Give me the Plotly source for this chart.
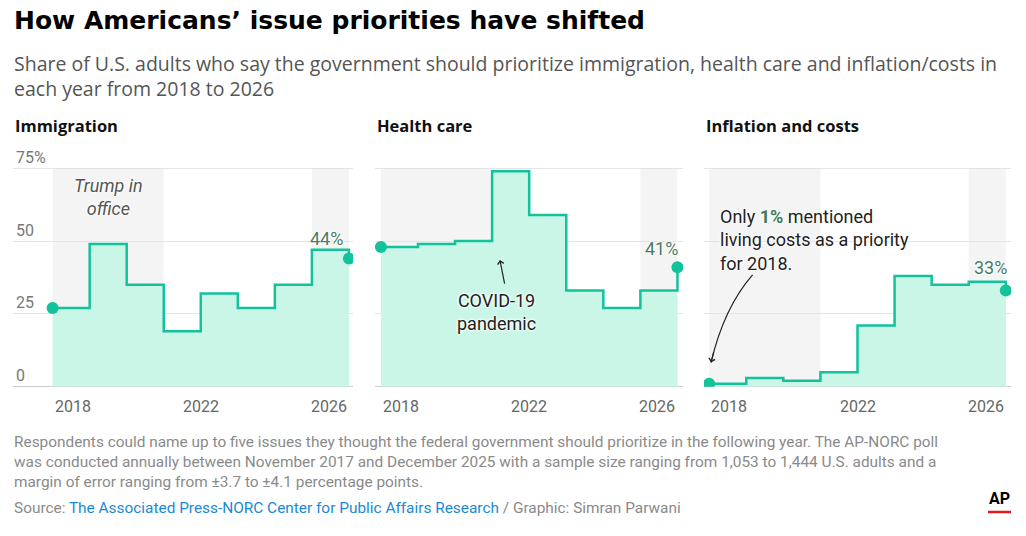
import plotly.graph_objects as go

years = [2018, 2019, 2020, 2021, 2022, 2023, 2024, 2025, 2026]
immigration = [27, 49, 35, 19, 32, 27, 35, 47, 44]
health_care = [48, 49, 50, 74, 59, 33, 27, 33, 41]
inflation = [1, 3, 2, 5, 21, 38, 35, 36, 33]
panel_titles = ["Immigration", "Health care", "Inflation and costs"]
trump_terms = [(2018, 2021), (2025, 2026)]
y_ticks = [0, 25, 50, 75]
y_ticktext = ["0", "25", "50", "75%"]
x_labels = [2018, 2022, 2026]

W, H = 1026, 536
LINE = "#12c29b"
FILL = "#c9f6e7"
BAND = "#f4f4f4"
LABEL_GREEN = "#4a7c66"
FONT = "Roboto"
HEAD_FONT = "Open Sans"
TITLE_FONT = "DejaVu Sans"

def px(x):
    return x / W

def py(y):
    return 1 - y / H

PPU = 2.912          # pixels per percentage point
Y0 = 386.7           # pixel row of 0
YMAX = 88
x_domains = [(13, 353), (375, 683), (704, 1011)]
x_ranges = [(2016.93, 2026.11), (2017.84, 2026.15), (2017.86, 2026.14)]
y_dom = (py(Y0), py(Y0 - YMAX * PPU))

fig = go.Figure()
series = [immigration, health_care, inflation]

for i, vals in enumerate(series):
    xa = "x" if i == 0 else f"x{i+1}"
    ya = "y" if i == 0 else f"y{i+1}"
    fig.add_trace(go.Scatter(x=years, y=vals, mode="lines", line=dict(color=LINE, width=2.5, shape="hv"),
                             fill="tozeroy", fillcolor=FILL, xaxis=xa, yaxis=ya, hoverinfo="skip", showlegend=False))
    fig.add_trace(go.Scatter(x=[years[0], years[-1]], y=[vals[0], vals[-1]], mode="markers",
                             marker=dict(color=LINE, size=12), xaxis=xa, yaxis=ya, hoverinfo="skip", showlegend=False))
    for (a, b) in trump_terms:
        fig.add_shape(type="rect", xref=xa, yref=ya, x0=a, x1=b, y0=0, y1=75, fillcolor=BAND,
                      line=dict(width=0), layer="below")
    anchors = ["left", "center", "right"]
    for j, yr in enumerate(x_labels):
        fig.add_annotation(x=yr, xref=xa, y=py(406), yref="paper", text=str(yr), showarrow=False,
                           xanchor=anchors[j], yanchor="middle", font=dict(family=FONT, size=16, color="#666"))
    fig.add_annotation(x=px(x_domains[i][0]), xref="paper", y=py(126), yref="paper",
                       text=f"<b>{panel_titles[i]}</b>", showarrow=False, xanchor="left", yanchor="middle",
                       font=dict(family=HEAD_FONT, size=16.5, color="#111"))

axis_common = dict(showgrid=False, zeroline=False, showticklabels=False, ticks="", fixedrange=True)
for i in range(3):
    key = "xaxis" if i == 0 else f"xaxis{i+1}"
    ykey = "yaxis" if i == 0 else f"yaxis{i+1}"
    anchor_y = "y" if i == 0 else f"y{i+1}"
    anchor_x = "x" if i == 0 else f"x{i+1}"
    fig.layout[key] = dict(domain=[px(x_domains[i][0]), px(x_domains[i][1])], range=list(x_ranges[i]),
                           anchor=anchor_y, **axis_common)
    fig.layout[ykey] = dict(domain=list(y_dom), range=[0, YMAX], anchor=anchor_x,
                            tickvals=y_ticks, ticktext=y_ticktext, showgrid=True, gridcolor="#e4e4e4", gridwidth=1,
                            zeroline=True, zerolinecolor="#cfcfcf", zerolinewidth=1.2,
                            showticklabels=(i == 0), ticklabelposition="inside top", ticks="",
                            tickfont=dict(family=FONT, size=16, color="#777"), fixedrange=True)

halo = "0 0 3px white, 0 0 3px white, 0 0 3px white"

fig.add_annotation(x=2019.5, y=65, xref="x", yref="y", text="<i>Trump in<br>office</i>", showarrow=False,
                   font=dict(family=FONT, size=18, color="#555", shadow=halo))
fig.add_annotation(x=2025.4, y=46.5, xref="x", yref="y", text="44%", showarrow=False, yanchor="bottom",
                   font=dict(family=FONT, size=18, color=LABEL_GREEN, shadow=halo))
fig.add_annotation(x=2021.13, y=25.5, xref="x2", yref="y2", text="COVID-19<br>pandemic", showarrow=False,
                   font=dict(family=FONT, size=18, color="#222", shadow=halo))
fig.add_annotation(x=2021.21, y=43.5, xref="x2", yref="y2", text="", showarrow=True, ax=5, ay=25,
                   arrowhead=4, arrowsize=1, arrowwidth=1.2, arrowcolor="#222")
fig.add_annotation(x=2025.58, y=43.2, xref="x2", yref="y2", text="41%", showarrow=False, yanchor="bottom",
                   font=dict(family=FONT, size=18, color=LABEL_GREEN, shadow=halo))
fig.add_annotation(x=2018.23, y=50.4, xref="x3", yref="y3",
                   text="Only <span style='color:#3f7a5e'><b>1%</b></span> mentioned<br>living costs as a priority<br>for 2018.",
                   showarrow=False, xanchor="left", align="left",
                   font=dict(family=FONT, size=18, color="#222", shadow=halo))
fig.add_shape(type="path", xref="x3", yref="y3", path="M 2019.17,38.4 Q 2018.40,27.2 2018.05,8.3",
              line=dict(color="#222", width=1.2))
fig.add_annotation(x=2018.05, y=8.3, xref="x3", yref="y3", text="", showarrow=True, ax=3, ay=-12,
                   arrowhead=4, arrowsize=1, arrowwidth=1.2, arrowcolor="#222")
fig.add_annotation(x=2025.58, y=36.5, xref="x3", yref="y3", text="33%", showarrow=False, yanchor="bottom",
                   font=dict(family=FONT, size=18, color=LABEL_GREEN, shadow=halo))

fig.add_annotation(x=px(12), y=py(20), xref="paper", yref="paper", text="<b>How Americans’ issue priorities have shifted</b>",
                   showarrow=False, xanchor="left", yanchor="middle", font=dict(family=TITLE_FONT, size=25, color="#000"))
fig.add_annotation(x=px(12), y=py(76.5), xref="paper", yref="paper", align="left",
                   text="Share of U.S. adults who say the government should prioritize immigration, health care and inflation/costs in<br>each year from 2018 to 2026",
                   showarrow=False, xanchor="left", yanchor="middle", font=dict(family=HEAD_FONT, size=19.5, color="#555"))

footer_lines = ["Respondents could name up to five issues they thought the federal government should prioritize in the following year. The AP-NORC poll",
                "was conducted annually between November 2017 and December 2025 with a sample size ranging from 1,053 to 1,444 U.S. adults and a",
                "margin of error ranging from ±3.7 to ±4.1 percentage points."]
fig.add_annotation(x=px(12), y=py(462), xref="paper", yref="paper", align="left", text="<br>".join(footer_lines),
                   showarrow=False, xanchor="left", yanchor="middle", font=dict(family=FONT, size=15.4, color="#8a8a8a"))
fig.add_annotation(x=px(12), y=py(508), xref="paper", yref="paper", align="left",
                   text="Source: <span style='color:#1a8ad4'>The Associated Press-NORC Center for Public Affairs Research</span> / Graphic: Simran Parwani",
                   showarrow=False, xanchor="left", yanchor="middle", font=dict(family=FONT, size=15.4, color="#8a8a8a"))
fig.add_annotation(x=px(999), y=py(498), xref="paper", yref="paper", text="<b>AP</b>", showarrow=False,
                   xanchor="center", yanchor="middle", font=dict(family=FONT, size=16, color="#000"))
fig.add_shape(type="line", xref="paper", yref="paper", x0=px(988), x1=px(1011), y0=py(512), y1=py(512),
              line=dict(color="#e8141e", width=2.5))

fig.update_layout(width=W, height=H, margin=dict(l=0, r=0, t=0, b=0), paper_bgcolor="white",
                  plot_bgcolor="rgba(0,0,0,0)", showlegend=False)

fig.write_html("out.html", config={"displayModeBar": False},
               post_script="document.body.style.margin='0';document.body.style.padding='0';")
